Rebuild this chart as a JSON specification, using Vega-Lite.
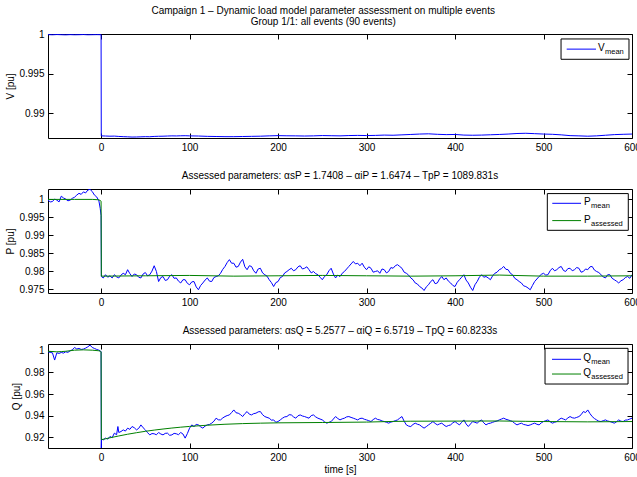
{
"$schema": "https://vega.github.io/schema/vega-lite/v6.json",
"padding": {"left": 5, "top": 5, "right": 0, "bottom": 0},
"background": "white",
"title": {"text": ["Campaign 1 – Dynamic load model parameter assessment on multiple events", "Group 1/1: all events (90 events)"], "fontSize": 10, "fontWeight": "normal", "anchor": "middle", "offset": 2, "lineHeight": 11},
"bounds": "flush",
"spacing": 51,
"datasets": {
"V": [
{"t":-60,"v":0.99997},{"t":-55,"v":0.99995},{"t":-50,"v":0.99998},{"t":-45,"v":0.99996},{"t":-40,"v":0.99994},{"t":-35,"v":0.99997},{"t":-30,"v":0.99995},{"t":-25,"v":0.99996},{"t":-20,"v":0.99998},{"t":-15,"v":0.99995},{"t":-10,"v":0.99996},{"t":-5,"v":0.99997},{"t":0,"v":0.99996},
{"t":0.2,"v":0.98712},{"t":5,"v":0.9871},{"t":10,"v":0.98708},{"t":15,"v":0.98709},{"t":20,"v":0.98705},{"t":25,"v":0.98702},{"t":30,"v":0.987},{"t":35,"v":0.98697},{"t":40,"v":0.98698},{"t":45,"v":0.987},{"t":50,"v":0.98702},{"t":55,"v":0.98701},{"t":60,"v":0.98705},{"t":65,"v":0.98707},{"t":70,"v":0.98708},{"t":75,"v":0.9871},{"t":80,"v":0.98712},{"t":85,"v":0.98711},{"t":90,"v":0.98713},{"t":95,"v":0.98714},{"t":100,"v":0.98712},{"t":110,"v":0.9871},{"t":120,"v":0.98706},{"t":130,"v":0.98704},{"t":140,"v":0.98702},{"t":150,"v":0.98702},{"t":160,"v":0.98704},{"t":170,"v":0.98706},{"t":180,"v":0.98708},{"t":190,"v":0.98712},{"t":200,"v":0.98715},{"t":210,"v":0.98713},{"t":220,"v":0.98712},{"t":230,"v":0.9871},{"t":240,"v":0.98712},{"t":250,"v":0.98716},{"t":260,"v":0.98714},{"t":270,"v":0.98712},{"t":280,"v":0.98716},{"t":290,"v":0.98718},{"t":300,"v":0.98716},{"t":310,"v":0.98718},{"t":320,"v":0.98722},{"t":330,"v":0.9872},{"t":340,"v":0.98725},{"t":350,"v":0.9873},{"t":360,"v":0.98735},{"t":370,"v":0.98738},{"t":380,"v":0.98732},{"t":390,"v":0.98728},{"t":400,"v":0.9873},{"t":410,"v":0.98722},{"t":420,"v":0.9872},{"t":430,"v":0.98722},{"t":440,"v":0.98726},{"t":450,"v":0.9873},{"t":460,"v":0.98735},{"t":470,"v":0.98742},{"t":480,"v":0.98745},{"t":490,"v":0.9874},{"t":500,"v":0.98735},{"t":510,"v":0.98732},{"t":520,"v":0.98725},{"t":530,"v":0.98715},{"t":540,"v":0.98712},{"t":550,"v":0.98708},{"t":560,"v":0.98712},{"t":570,"v":0.9872},{"t":580,"v":0.98728},{"t":590,"v":0.98732},{"t":600,"v":0.98735}
],
"Pm": [
{"t":-60,"v":0.9998},{"t":-57.5,"v":0.9993},{"t":-55,"v":0.9994},{"t":-52.5,"v":1.0001},{"t":-50,"v":0.9998},{"t":-47.5,"v":0.9993},{"t":-45,"v":1.0009},{"t":-42.5,"v":1.0004},{"t":-40,"v":1.0001},{"t":-37.5,"v":0.9996},{"t":-35,"v":0.9998},{"t":-32.5,"v":1.0003},{"t":-30,"v":1.0006},{"t":-27.5,"v":1.0012},{"t":-25,"v":1.0017},{"t":-22.5,"v":1.0014},{"t":-20,"v":1.0021},{"t":-17.5,"v":1.0018},{"t":-15,"v":1.0026},{"t":-12.5,"v":1.0028},{"t":-10,"v":1.0022},{"t":-7.5,"v":1.0012},{"t":-5,"v":1.0007},{"t":-2.5,"v":0.9996},{"t":-1,"v":0.9975},{"t":0,"v":0.9955},
{"t":0.3,"v":0.9785},{"t":2.5,"v":0.9781},{"t":5,"v":0.979},{"t":7.5,"v":0.9783},{"t":10,"v":0.9787},{"t":12.5,"v":0.9781},{"t":15,"v":0.979},{"t":17.5,"v":0.9784},{"t":20,"v":0.9781},{"t":22.5,"v":0.9789},{"t":25,"v":0.9794},{"t":27.5,"v":0.979},{"t":30,"v":0.9804},{"t":32.5,"v":0.9793},{"t":35,"v":0.9785},{"t":37.5,"v":0.9792},{"t":40,"v":0.979},{"t":42.5,"v":0.9783},{"t":45,"v":0.9781},{"t":47.5,"v":0.9792},{"t":50,"v":0.9796},{"t":52.5,"v":0.9787},{"t":55,"v":0.979},{"t":57.5,"v":0.98},{"t":60,"v":0.9815},{"t":62.5,"v":0.9799},{"t":65,"v":0.9771},{"t":67.5,"v":0.9782},{"t":70,"v":0.9785},{"t":72.5,"v":0.9774},{"t":75,"v":0.9776},{"t":77.5,"v":0.9786},{"t":80,"v":0.979},{"t":82.5,"v":0.978},{"t":85,"v":0.9781},{"t":87.5,"v":0.9772},{"t":90,"v":0.9767},{"t":92.5,"v":0.9776},{"t":95,"v":0.9776},{"t":97.5,"v":0.9766},{"t":100,"v":0.9762},{"t":102.5,"v":0.977},{"t":105,"v":0.9771},{"t":107.5,"v":0.9756},{"t":110,"v":0.9748},{"t":112.5,"v":0.976},{"t":115,"v":0.9767},{"t":117.5,"v":0.9775},{"t":120,"v":0.9781},{"t":122.5,"v":0.9772},{"t":125,"v":0.9771},{"t":127.5,"v":0.9782},{"t":130,"v":0.9785},{"t":132.5,"v":0.9787},{"t":135,"v":0.9794},{"t":137.5,"v":0.9805},{"t":140,"v":0.9813},{"t":142.5,"v":0.9824},{"t":145,"v":0.9832},{"t":147.5,"v":0.9822},{"t":150,"v":0.9822},{"t":152.5,"v":0.9811},{"t":155,"v":0.9813},{"t":157.5,"v":0.9825},{"t":160,"v":0.9833},{"t":162.5,"v":0.9812},{"t":165,"v":0.9804},{"t":167.5,"v":0.9815},{"t":170,"v":0.9813},{"t":172.5,"v":0.9801},{"t":175,"v":0.9794},{"t":177.5,"v":0.9806},{"t":180,"v":0.9808},{"t":182.5,"v":0.9795},{"t":185,"v":0.979},{"t":187.5,"v":0.9786},{"t":190,"v":0.9776},{"t":192.5,"v":0.9768},{"t":195,"v":0.9757},{"t":197.5,"v":0.9768},{"t":200,"v":0.9771},{"t":202.5,"v":0.9782},{"t":205,"v":0.9785},{"t":207.5,"v":0.9795},{"t":210,"v":0.9799},{"t":212.5,"v":0.9804},{"t":215,"v":0.9808},{"t":217.5,"v":0.9801},{"t":220,"v":0.9804},{"t":222.5,"v":0.9812},{"t":225,"v":0.9815},{"t":227.5,"v":0.9806},{"t":230,"v":0.9808},{"t":232.5,"v":0.9812},{"t":235,"v":0.9804},{"t":237.5,"v":0.9795},{"t":240,"v":0.9799},{"t":242.5,"v":0.9793},{"t":245,"v":0.979},{"t":247.5,"v":0.9783},{"t":250,"v":0.9776},{"t":252.5,"v":0.9785},{"t":255,"v":0.979},{"t":257.5,"v":0.9801},{"t":260,"v":0.9808},{"t":262.5,"v":0.9792},{"t":265,"v":0.9781},{"t":267.5,"v":0.9789},{"t":270,"v":0.9785},{"t":272.5,"v":0.9794},{"t":275,"v":0.9799},{"t":277.5,"v":0.9806},{"t":280,"v":0.9813},{"t":282.5,"v":0.982},{"t":285,"v":0.9827},{"t":287.5,"v":0.982},{"t":290,"v":0.9822},{"t":292.5,"v":0.9815},{"t":295,"v":0.9822},{"t":297.5,"v":0.9811},{"t":300,"v":0.9804},{"t":302.5,"v":0.9812},{"t":305,"v":0.9808},{"t":307.5,"v":0.9797},{"t":310,"v":0.9799},{"t":312.5,"v":0.9801},{"t":315,"v":0.9794},{"t":317.5,"v":0.9806},{"t":320,"v":0.9804},{"t":322.5,"v":0.9795},{"t":325,"v":0.9799},{"t":327.5,"v":0.981},{"t":330,"v":0.9808},{"t":332.5,"v":0.9815},{"t":335,"v":0.9818},{"t":337.5,"v":0.9813},{"t":340,"v":0.9808},{"t":342.5,"v":0.9797},{"t":345,"v":0.9794},{"t":347.5,"v":0.9789},{"t":350,"v":0.9781},{"t":352.5,"v":0.9776},{"t":355,"v":0.9767},{"t":357.5,"v":0.9764},{"t":360,"v":0.9757},{"t":362.5,"v":0.9753},{"t":365,"v":0.9746},{"t":367.5,"v":0.9756},{"t":370,"v":0.9762},{"t":372.5,"v":0.9771},{"t":375,"v":0.9776},{"t":377.5,"v":0.9765},{"t":380,"v":0.9767},{"t":382.5,"v":0.9778},{"t":385,"v":0.9785},{"t":387.5,"v":0.9776},{"t":390,"v":0.9781},{"t":392.5,"v":0.9772},{"t":395,"v":0.9767},{"t":397.5,"v":0.976},{"t":400,"v":0.9757},{"t":402.5,"v":0.9769},{"t":405,"v":0.9776},{"t":407.5,"v":0.9783},{"t":410,"v":0.979},{"t":412.5,"v":0.9775},{"t":415,"v":0.9767},{"t":417.5,"v":0.9755},{"t":420,"v":0.9746},{"t":422.5,"v":0.9762},{"t":425,"v":0.9771},{"t":427.5,"v":0.9783},{"t":430,"v":0.979},{"t":432.5,"v":0.9783},{"t":435,"v":0.9785},{"t":437.5,"v":0.9781},{"t":440,"v":0.9776},{"t":442.5,"v":0.9787},{"t":445,"v":0.9794},{"t":447.5,"v":0.9797},{"t":450,"v":0.9804},{"t":452.5,"v":0.9807},{"t":455,"v":0.9813},{"t":457.5,"v":0.9805},{"t":460,"v":0.9804},{"t":462.5,"v":0.9794},{"t":465,"v":0.979},{"t":467.5,"v":0.978},{"t":470,"v":0.9776},{"t":472.5,"v":0.9771},{"t":475,"v":0.9767},{"t":477.5,"v":0.9759},{"t":480,"v":0.9757},{"t":482.5,"v":0.9753},{"t":485,"v":0.9748},{"t":487.5,"v":0.976},{"t":490,"v":0.9771},{"t":492.5,"v":0.9778},{"t":495,"v":0.9785},{"t":497.5,"v":0.9791},{"t":500,"v":0.9794},{"t":502.5,"v":0.9789},{"t":505,"v":0.979},{"t":507.5,"v":0.9801},{"t":510,"v":0.9808},{"t":512.5,"v":0.9801},{"t":515,"v":0.9804},{"t":517.5,"v":0.981},{"t":520,"v":0.9813},{"t":522.5,"v":0.9802},{"t":525,"v":0.9799},{"t":527.5,"v":0.9807},{"t":530,"v":0.9808},{"t":532.5,"v":0.9801},{"t":535,"v":0.9804},{"t":537.5,"v":0.981},{"t":540,"v":0.9808},{"t":542.5,"v":0.9797},{"t":545,"v":0.9799},{"t":547.5,"v":0.9806},{"t":550,"v":0.9804},{"t":552.5,"v":0.9812},{"t":555,"v":0.9813},{"t":557.5,"v":0.9803},{"t":560,"v":0.9799},{"t":562.5,"v":0.9796},{"t":565,"v":0.979},{"t":567.5,"v":0.9784},{"t":570,"v":0.9781},{"t":572.5,"v":0.979},{"t":575,"v":0.979},{"t":577.5,"v":0.978},{"t":580,"v":0.9776},{"t":582.5,"v":0.9772},{"t":585,"v":0.9767},{"t":587.5,"v":0.9773},{"t":590,"v":0.9776},{"t":592.5,"v":0.9782},{"t":595,"v":0.9785},{"t":597.5,"v":0.978},{"t":600,"v":0.979}
],
"Pa": [
{"t":-60,"v":1.0},{"t":-30,"v":1.0},{"t":-10,"v":1.0},{"t":-3,"v":0.9999},{"t":-1,"v":0.9997},{"t":0,"v":0.9995},{"t":0.3,"v":0.9786},{"t":50,"v":0.9787},{"t":100,"v":0.9788},{"t":150,"v":0.9786},{"t":200,"v":0.9787},{"t":250,"v":0.9788},{"t":300,"v":0.9787},{"t":350,"v":0.9786},{"t":400,"v":0.9787},{"t":450,"v":0.9789},{"t":500,"v":0.9786},{"t":550,"v":0.9786},{"t":600,"v":0.9787}
],
"Qm": [
{"t":-60,"v":0.999},{"t":-57.5,"v":0.9984},{"t":-55,"v":0.9981},{"t":-52.5,"v":0.9914},{"t":-50,"v":0.9981},{"t":-47.5,"v":0.9975},{"t":-45,"v":0.9984},{"t":-42.5,"v":0.9978},{"t":-40,"v":0.999},{"t":-37.5,"v":0.9985},{"t":-35,"v":0.9999},{"t":-32.5,"v":1.0008},{"t":-30,"v":1.003},{"t":-27.5,"v":1.0016},{"t":-25,"v":1.0021},{"t":-22.5,"v":1.0012},{"t":-20,"v":1.0015},{"t":-17.5,"v":1.0024},{"t":-15,"v":1.0036},{"t":-12.5,"v":1.0052},{"t":-10,"v":1.003},{"t":-7.5,"v":1.0021},{"t":-5,"v":1.0012},{"t":-2.5,"v":1.0005},{"t":-1,"v":1.0},{"t":0,"v":0.999},{"t":0.2,"v":0.909},
{"t":0.5,"v":0.9185},{"t":2.5,"v":0.9178},{"t":5,"v":0.9194},{"t":7.5,"v":0.9185},{"t":10,"v":0.9209},{"t":12.5,"v":0.9198},{"t":15,"v":0.924},{"t":17.5,"v":0.9225},{"t":19,"v":0.9301},{"t":20,"v":0.9246},{"t":22.5,"v":0.9255},{"t":25,"v":0.927},{"t":27.5,"v":0.9259},{"t":30,"v":0.9286},{"t":32.5,"v":0.9275},{"t":35,"v":0.9301},{"t":37.5,"v":0.929},{"t":40,"v":0.927},{"t":42.5,"v":0.9284},{"t":45,"v":0.9316},{"t":47.5,"v":0.929},{"t":50,"v":0.927},{"t":52.5,"v":0.9245},{"t":55,"v":0.9224},{"t":57.5,"v":0.9236},{"t":60,"v":0.9234},{"t":62.5,"v":0.9225},{"t":65,"v":0.9246},{"t":67.5,"v":0.9232},{"t":70,"v":0.9224},{"t":72.5,"v":0.9238},{"t":75,"v":0.924},{"t":77.5,"v":0.922},{"t":80,"v":0.9224},{"t":82.5,"v":0.9238},{"t":85,"v":0.9234},{"t":87.5,"v":0.9226},{"t":90,"v":0.9246},{"t":92.5,"v":0.9232},{"t":95,"v":0.9194},{"t":97.5,"v":0.9236},{"t":100,"v":0.9286},{"t":102.5,"v":0.9316},{"t":105,"v":0.9301},{"t":107.5,"v":0.932},{"t":110,"v":0.9316},{"t":112.5,"v":0.9298},{"t":115,"v":0.9286},{"t":117.5,"v":0.9305},{"t":120,"v":0.9316},{"t":122.5,"v":0.932},{"t":125,"v":0.9332},{"t":127.5,"v":0.935},{"t":130,"v":0.9378},{"t":132.5,"v":0.9363},{"t":135,"v":0.9362},{"t":137.5,"v":0.938},{"t":140,"v":0.9393},{"t":142.5,"v":0.9402},{"t":145,"v":0.9408},{"t":147.5,"v":0.943},{"t":150,"v":0.9454},{"t":152.5,"v":0.9428},{"t":155,"v":0.9424},{"t":157.5,"v":0.9411},{"t":160,"v":0.9393},{"t":162.5,"v":0.942},{"t":165,"v":0.9439},{"t":167.5,"v":0.9415},{"t":170,"v":0.9408},{"t":172.5,"v":0.942},{"t":175,"v":0.9424},{"t":177.5,"v":0.9436},{"t":180,"v":0.9439},{"t":182.5,"v":0.941},{"t":185,"v":0.9393},{"t":187.5,"v":0.9385},{"t":190,"v":0.9378},{"t":192.5,"v":0.936},{"t":195,"v":0.9362},{"t":197.5,"v":0.934},{"t":200,"v":0.9347},{"t":202.5,"v":0.9362},{"t":205,"v":0.9378},{"t":207.5,"v":0.939},{"t":210,"v":0.9393},{"t":212.5,"v":0.941},{"t":215,"v":0.9408},{"t":217.5,"v":0.939},{"t":220,"v":0.9378},{"t":222.5,"v":0.94},{"t":225,"v":0.9408},{"t":227.5,"v":0.9398},{"t":230,"v":0.9393},{"t":232.5,"v":0.9385},{"t":235,"v":0.9378},{"t":237.5,"v":0.9402},{"t":240,"v":0.9408},{"t":242.5,"v":0.939},{"t":245,"v":0.9378},{"t":247.5,"v":0.937},{"t":250,"v":0.9362},{"t":252.5,"v":0.9345},{"t":255,"v":0.9332},{"t":257.5,"v":0.934},{"t":260,"v":0.9347},{"t":262.5,"v":0.937},{"t":265,"v":0.9393},{"t":267.5,"v":0.9375},{"t":270,"v":0.9362},{"t":272.5,"v":0.9372},{"t":275,"v":0.9378},{"t":277.5,"v":0.939},{"t":280,"v":0.9393},{"t":282.5,"v":0.9385},{"t":285,"v":0.9378},{"t":287.5,"v":0.937},{"t":290,"v":0.9362},{"t":292.5,"v":0.9375},{"t":295,"v":0.9378},{"t":297.5,"v":0.9368},{"t":300,"v":0.9362},{"t":302.5,"v":0.9355},{"t":305,"v":0.9347},{"t":307.5,"v":0.9365},{"t":310,"v":0.9378},{"t":312.5,"v":0.9366},{"t":315,"v":0.9362},{"t":317.5,"v":0.9352},{"t":320,"v":0.9347},{"t":322.5,"v":0.934},{"t":325,"v":0.9332},{"t":327.5,"v":0.9342},{"t":330,"v":0.9347},{"t":332.5,"v":0.9355},{"t":335,"v":0.9362},{"t":337.5,"v":0.9378},{"t":340,"v":0.9393},{"t":342.5,"v":0.935},{"t":345,"v":0.9316},{"t":347.5,"v":0.9305},{"t":350,"v":0.9301},{"t":352.5,"v":0.932},{"t":355,"v":0.9332},{"t":357.5,"v":0.9322},{"t":360,"v":0.9316},{"t":362.5,"v":0.93},{"t":365,"v":0.9286},{"t":367.5,"v":0.93},{"t":370,"v":0.9316},{"t":372.5,"v":0.933},{"t":375,"v":0.9347},{"t":377.5,"v":0.933},{"t":380,"v":0.9316},{"t":382.5,"v":0.9325},{"t":385,"v":0.9332},{"t":387.5,"v":0.9315},{"t":390,"v":0.9301},{"t":392.5,"v":0.931},{"t":395,"v":0.9316},{"t":397.5,"v":0.9335},{"t":400,"v":0.9347},{"t":402.5,"v":0.933},{"t":405,"v":0.9316},{"t":407.5,"v":0.934},{"t":410,"v":0.9362},{"t":412.5,"v":0.9325},{"t":415,"v":0.9301},{"t":417.5,"v":0.9325},{"t":420,"v":0.9347},{"t":422.5,"v":0.934},{"t":425,"v":0.9332},{"t":427.5,"v":0.935},{"t":430,"v":0.9362},{"t":432.5,"v":0.9335},{"t":435,"v":0.9316},{"t":437.5,"v":0.9328},{"t":440,"v":0.9332},{"t":442.5,"v":0.934},{"t":445,"v":0.9347},{"t":447.5,"v":0.9352},{"t":450,"v":0.9362},{"t":452.5,"v":0.937},{"t":455,"v":0.9378},{"t":457.5,"v":0.9368},{"t":460,"v":0.9362},{"t":462.5,"v":0.9355},{"t":465,"v":0.9347},{"t":467.5,"v":0.933},{"t":470,"v":0.9316},{"t":472.5,"v":0.9325},{"t":475,"v":0.9332},{"t":477.5,"v":0.932},{"t":480,"v":0.9316},{"t":482.5,"v":0.931},{"t":485,"v":0.9316},{"t":487.5,"v":0.9325},{"t":490,"v":0.9332},{"t":492.5,"v":0.9322},{"t":495,"v":0.9316},{"t":497.5,"v":0.9335},{"t":500,"v":0.9347},{"t":502.5,"v":0.9355},{"t":505,"v":0.9362},{"t":507.5,"v":0.9345},{"t":510,"v":0.9332},{"t":512.5,"v":0.934},{"t":515,"v":0.9347},{"t":517.5,"v":0.9365},{"t":520,"v":0.9378},{"t":522.5,"v":0.937},{"t":525,"v":0.9362},{"t":527.5,"v":0.938},{"t":530,"v":0.9393},{"t":532.5,"v":0.9382},{"t":535,"v":0.9378},{"t":537.5,"v":0.9385},{"t":540,"v":0.9393},{"t":542.5,"v":0.941},{"t":545,"v":0.9439},{"t":547.5,"v":0.943},{"t":550,"v":0.9454},{"t":552.5,"v":0.942},{"t":555,"v":0.9393},{"t":557.5,"v":0.9375},{"t":560,"v":0.9362},{"t":562.5,"v":0.935},{"t":565,"v":0.9347},{"t":567.5,"v":0.9355},{"t":570,"v":0.9362},{"t":572.5,"v":0.9352},{"t":575,"v":0.9347},{"t":577.5,"v":0.934},{"t":580,"v":0.9332},{"t":582.5,"v":0.9345},{"t":585,"v":0.9362},{"t":587.5,"v":0.935},{"t":590,"v":0.9347},{"t":592.5,"v":0.936},{"t":595,"v":0.9362},{"t":597.5,"v":0.937},{"t":600,"v":0.9378}
],
"Qa": [
{"t":-60,"v":0.9995},{"t":-50,"v":0.999},{"t":-45,"v":0.9992},{"t":-40,"v":0.9995},{"t":-30,"v":1.0005},{"t":-20,"v":1.0008},{"t":-10,"v":1.0005},{"t":-3,"v":1.0},{"t":-1,"v":0.9995},{"t":0,"v":0.999},{"t":0.3,"v":0.918},{"t":5,"v":0.9188},{"t":10,"v":0.9197},{"t":20,"v":0.9214},{"t":30,"v":0.923},{"t":40,"v":0.9244},{"t":50,"v":0.9257},{"t":60,"v":0.9268},{"t":70,"v":0.9278},{"t":80,"v":0.9287},{"t":90,"v":0.9295},{"t":100,"v":0.9302},{"t":120,"v":0.9313},{"t":140,"v":0.9322},{"t":160,"v":0.9328},{"t":180,"v":0.9332},{"t":200,"v":0.9335},{"t":250,"v":0.9338},{"t":300,"v":0.9342},{"t":330,"v":0.9348},{"t":350,"v":0.935},{"t":400,"v":0.9351},{"t":450,"v":0.9352},{"t":480,"v":0.9349},{"t":500,"v":0.9347},{"t":550,"v":0.9344},{"t":600,"v":0.9347}
]
},
"vconcat": [
{
"width": 584, "height": 104,
"layer": [
{"data": {"name": "V"}, "mark": {"type": "line", "color": "#0000ff", "strokeWidth": 1, "clip": true},
 "encoding": {
  "x": {"field": "t", "type": "quantitative", "scale": {"domain": [-60, 600], "nice": false, "zero": false}, "axis": {"values": [0,100,200,300,400,500,600], "format": "d", "title": null}},
  "y": {"field": "v", "type": "quantitative", "scale": {"domain": [0.98685, 1.00005], "nice": false, "zero": false}, "axis": {"values": [0.99, 0.995, 1], "format": "~g", "title": "V [pu]"}}}},
{"data": {"values": [{}]}, "mark": {"type": "rect", "fill": "white", "stroke": "black", "strokeWidth": 1},
 "encoding": {
  "x": {"datum": 519.8, "type": "quantitative", "axis": {"orient": "top", "labels": false, "title": null, "values": [0,100,200,300,400,500,600]}},
  "x2": {"datum": 596.6},
  "y": {"datum": 0.99942, "type": "quantitative", "axis": {"orient": "right", "labels": false, "title": null, "values": [0.99, 0.995, 1]}},
  "y2": {"datum": 0.99684}}},
{"data": {"values": [{}]}, "mark": {"type": "rule", "color": "#0000ff", "strokeWidth": 1},
 "encoding": {"x": {"datum": 526.2, "type": "quantitative", "axis": null}, "x2": {"datum": 559.3}, "y": {"datum": 0.99813, "type": "quantitative", "axis": null}}},
{"data": {"values": [{}]}, "mark": {"type": "text", "text": "V", "align": "left", "baseline": "middle", "fontSize": 10, "dy": -1},
 "encoding": {"x": {"datum": 561.6, "type": "quantitative", "axis": null}, "y": {"datum": 0.99813, "type": "quantitative", "axis": null}}},
{"data": {"values": [{}]}, "mark": {"type": "text", "text": "mean", "align": "left", "baseline": "middle", "fontSize": 7.5, "dx": 7, "dy": 3},
 "encoding": {"x": {"datum": 561.6, "type": "quantitative", "axis": null}, "y": {"datum": 0.99813, "type": "quantitative", "axis": null}}}
],
"resolve": {"axis": {"x": "independent", "y": "independent"}}
},
{
"width": 584, "height": 104,
"title": "Assessed parameters: αsP = 1.7408 – αiP = 1.6474 – TpP = 1089.831s",
"layer": [
{"data": {"name": "Pm"}, "mark": {"type": "line", "color": "#0000ff", "strokeWidth": 1, "clip": true},
 "encoding": {
  "x": {"field": "t", "type": "quantitative", "scale": {"domain": [-60, 600], "nice": false, "zero": false}, "axis": {"values": [0,100,200,300,400,500,600], "format": "d", "title": null}},
  "y": {"field": "v", "type": "quantitative", "scale": {"domain": [0.9739, 1.0029], "nice": false, "zero": false}, "axis": {"values": [0.975, 0.98, 0.985, 0.99, 0.995, 1], "format": "~g", "title": "P [pu]"}}}},
{"data": {"name": "Pa"}, "mark": {"type": "line", "color": "#008000", "strokeWidth": 1, "clip": true},
 "encoding": {"x": {"field": "t", "type": "quantitative", "axis": null}, "y": {"field": "v", "type": "quantitative", "axis": null}}},
{"data": {"values": [{}]}, "mark": {"type": "rect", "fill": "white", "stroke": "black", "strokeWidth": 1},
 "encoding": {
  "x": {"datum": 504.3, "type": "quantitative", "axis": {"orient": "top", "labels": false, "title": null, "values": [0,100,200,300,400,500,600]}},
  "x2": {"datum": 595.8},
  "y": {"datum": 1.00162, "type": "quantitative", "axis": {"orient": "right", "labels": false, "title": null, "values": [0.975, 0.98, 0.985, 0.99, 0.995, 1]}},
  "y2": {"datum": 0.99138}}},
{"data": {"values": [{}]}, "mark": {"type": "rule", "color": "#0000ff", "strokeWidth": 1},
 "encoding": {"x": {"datum": 509.9, "type": "quantitative", "axis": null}, "x2": {"datum": 542.4}, "y": {"datum": 0.99891, "type": "quantitative", "axis": null}}},
{"data": {"values": [{}]}, "mark": {"type": "rule", "color": "#008000", "strokeWidth": 1},
 "encoding": {"x": {"datum": 509.9, "type": "quantitative", "axis": null}, "x2": {"datum": 542.4}, "y": {"datum": 0.99409, "type": "quantitative", "axis": null}}},
{"data": {"values": [{}]}, "mark": {"type": "text", "text": "P", "align": "left", "baseline": "middle", "fontSize": 10, "dy": -1},
 "encoding": {"x": {"datum": 545.8, "type": "quantitative", "axis": null}, "y": {"datum": 0.99891, "type": "quantitative", "axis": null}}},
{"data": {"values": [{}]}, "mark": {"type": "text", "text": "mean", "align": "left", "baseline": "middle", "fontSize": 7.5, "dx": 7, "dy": 3},
 "encoding": {"x": {"datum": 545.8, "type": "quantitative", "axis": null}, "y": {"datum": 0.99891, "type": "quantitative", "axis": null}}},
{"data": {"values": [{}]}, "mark": {"type": "text", "text": "P", "align": "left", "baseline": "middle", "fontSize": 10, "dy": -1},
 "encoding": {"x": {"datum": 545.8, "type": "quantitative", "axis": null}, "y": {"datum": 0.99409, "type": "quantitative", "axis": null}}},
{"data": {"values": [{}]}, "mark": {"type": "text", "text": "assessed", "align": "left", "baseline": "middle", "fontSize": 7.5, "dx": 7, "dy": 3},
 "encoding": {"x": {"datum": 545.8, "type": "quantitative", "axis": null}, "y": {"datum": 0.99409, "type": "quantitative", "axis": null}}}
],
"resolve": {"axis": {"x": "independent", "y": "independent"}}
},
{
"width": 584, "height": 104,
"title": "Assessed parameters: αsQ = 5.2577 – αiQ = 6.5719 – TpQ = 60.8233s",
"layer": [
{"data": {"name": "Qm"}, "mark": {"type": "line", "color": "#0000ff", "strokeWidth": 1, "clip": true},
 "encoding": {
  "x": {"field": "t", "type": "quantitative", "scale": {"domain": [-60, 600], "nice": false, "zero": false}, "axis": {"values": [0,100,200,300,400,500,600], "format": "d", "title": "time [s]", "titlePadding": 2}},
  "y": {"field": "v", "type": "quantitative", "scale": {"domain": [0.9103, 1.0062], "nice": false, "zero": false}, "axis": {"values": [0.92, 0.94, 0.96, 0.98, 1], "format": "~g", "title": "Q [pu]"}}}},
{"data": {"name": "Qa"}, "mark": {"type": "line", "color": "#008000", "strokeWidth": 1, "clip": true},
 "encoding": {"x": {"field": "t", "type": "quantitative", "axis": null}, "y": {"field": "v", "type": "quantitative", "axis": null}}},
{"data": {"values": [{}]}, "mark": {"type": "rect", "fill": "white", "stroke": "black", "strokeWidth": 1},
 "encoding": {
  "x": {"datum": 501.7, "type": "quantitative", "axis": {"orient": "top", "labels": false, "title": null, "values": [0,100,200,300,400,500,600]}},
  "x2": {"datum": 595.5},
  "y": {"datum": 1.0022, "type": "quantitative", "axis": {"orient": "right", "labels": false, "title": null, "values": [0.92, 0.94, 0.96, 0.98, 1]}},
  "y2": {"datum": 0.9693}}},
{"data": {"values": [{}]}, "mark": {"type": "rule", "color": "#0000ff", "strokeWidth": 1},
 "encoding": {"x": {"datum": 509.6, "type": "quantitative", "axis": null}, "x2": {"datum": 542.4}, "y": {"datum": 0.99209, "type": "quantitative", "axis": null}}},
{"data": {"values": [{}]}, "mark": {"type": "rule", "color": "#008000", "strokeWidth": 1},
 "encoding": {"x": {"datum": 509.6, "type": "quantitative", "axis": null}, "x2": {"datum": 542.4}, "y": {"datum": 0.97852, "type": "quantitative", "axis": null}}},
{"data": {"values": [{}]}, "mark": {"type": "text", "text": "Q", "align": "left", "baseline": "middle", "fontSize": 10, "dy": -1},
 "encoding": {"x": {"datum": 544.9, "type": "quantitative", "axis": null}, "y": {"datum": 0.99209, "type": "quantitative", "axis": null}}},
{"data": {"values": [{}]}, "mark": {"type": "text", "text": "mean", "align": "left", "baseline": "middle", "fontSize": 7.5, "dx": 8, "dy": 3},
 "encoding": {"x": {"datum": 544.9, "type": "quantitative", "axis": null}, "y": {"datum": 0.99209, "type": "quantitative", "axis": null}}},
{"data": {"values": [{}]}, "mark": {"type": "text", "text": "Q", "align": "left", "baseline": "middle", "fontSize": 10, "dy": -1},
 "encoding": {"x": {"datum": 544.9, "type": "quantitative", "axis": null}, "y": {"datum": 0.97852, "type": "quantitative", "axis": null}}},
{"data": {"values": [{}]}, "mark": {"type": "text", "text": "assessed", "align": "left", "baseline": "middle", "fontSize": 7.5, "dx": 8, "dy": 3},
 "encoding": {"x": {"datum": 544.9, "type": "quantitative", "axis": null}, "y": {"datum": 0.97852, "type": "quantitative", "axis": null}}}
],
"resolve": {"axis": {"x": "independent", "y": "independent"}}
}
],
"config": {
 "font": "Liberation Sans",
 "view": {"stroke": "black", "strokeWidth": 1},
 "axis": {"grid": false, "domain": false, "ticks": true, "tickSize": -5, "tickColor": "black", "tickWidth": 1, "labelColor": "black", "labelFontSize": 10, "labelPadding": 9, "labelFlush": false, "labelOverlap": false, "titleColor": "black", "titleFontSize": 10, "titleFontWeight": "normal", "titlePadding": 3},
 "title": {"fontSize": 10, "fontWeight": "normal", "color": "black", "offset": 8},
 "text": {"color": "black", "font": "Liberation Sans"}
}
}
